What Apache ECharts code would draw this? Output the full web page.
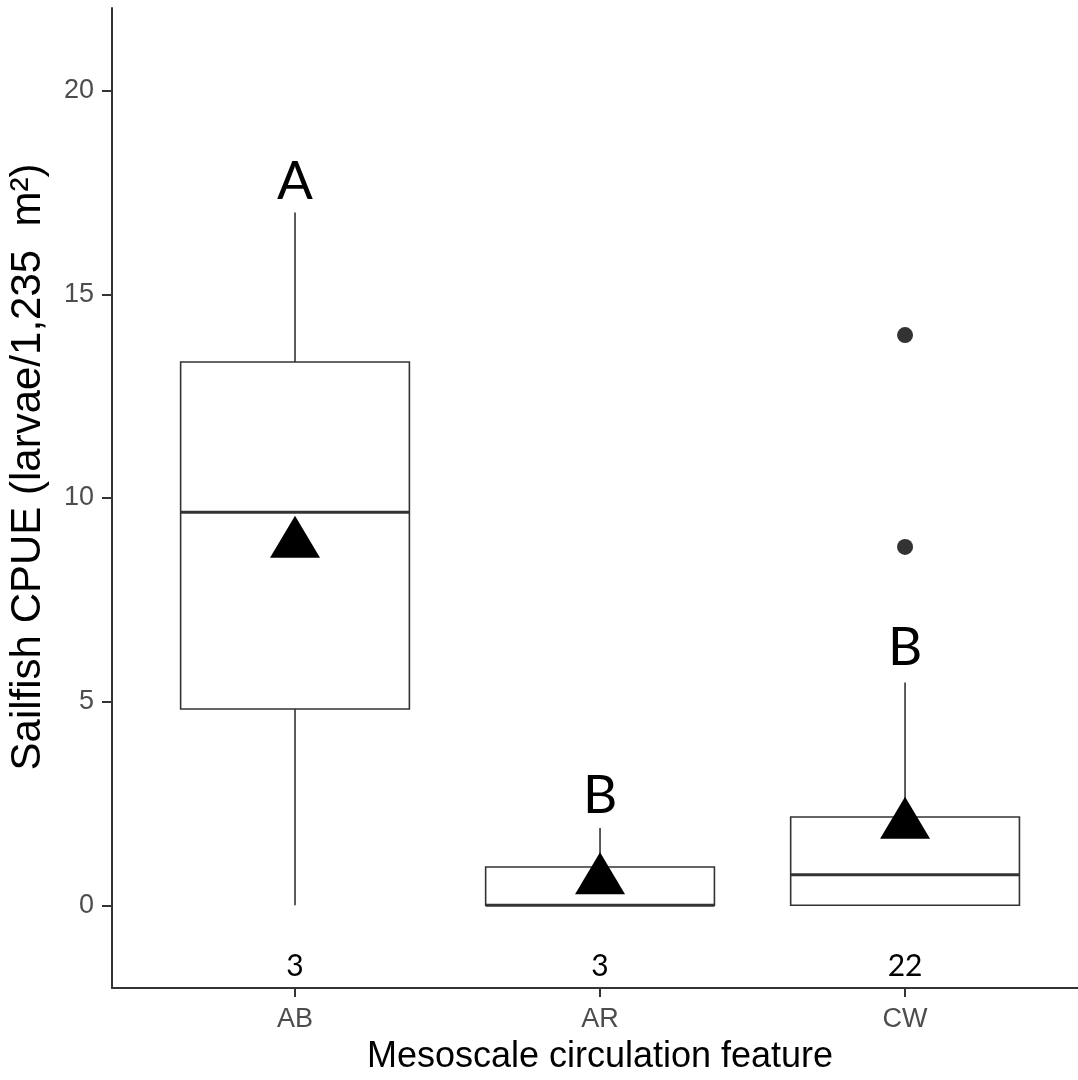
<!DOCTYPE html>
<html>
<head>
<meta charset="utf-8">
<script src="https://cdn.jsdelivr.net/npm/echarts@6/dist/echarts.min.js"></script>
<style>
  html, body { margin: 0; padding: 0; background: #fff; }
  #main { width: 1078px; height: 1080px; }
</style>
</head>
<body>
<div id="main"></div>
<script>
// box statistics per circulation feature
var categories = ['AB', 'AR', 'CW'];
var lower  = [0, 0, 0];
var q1     = [4.82, 0, 0];
var median = [9.65, 0, 0.75];
var q3     = [13.34, 0.94, 2.17];
var upper  = [17.01, 1.9, 5.47];
var means  = [9.05, 0.79, 2.15];
var outliers = [[3, 8.8], [3, 14.0]];

// annotations
var letters = ['A', 'B', 'B'];
var letterY = [17.76, 2.69, 6.33];
var counts  = [3, 3, 22];
var countY  = -1.49;

var yTicks = [0, 5, 10, 15, 20];

var chart = echarts.init(document.getElementById('main'));

var boxData = categories.map(function (c, i) {
    return [i + 1, lower[i], q1[i], median[i], q3[i], upper[i]];
});

var lineCol = '#333333';

chart.setOption({
    animation: false,
    grid: { left: 112, top: 8, right: 0, bottom: 92 },
    xAxis: {
        type: 'value',
        min: 0.4,
        max: 3.567,
        splitLine: { show: false },
        axisLine: { onZero: false, lineStyle: { color: lineCol, width: 2 } },
        axisTick: { customValues: [1, 2, 3], length: 9, lineStyle: { color: lineCol, width: 2 } },
        axisLabel: {
            customValues: [1, 2, 3],
            formatter: function (v) { return categories[Math.round(v) - 1]; },
            color: '#4d4d4d',
            fontFamily: 'Liberation Sans',
            fontSize: 27,
            margin: 18
        }
    },
    yAxis: {
        type: 'value',
        min: -2.03,
        max: 22.03,
        splitLine: { show: false },
        axisLine: { show: true, onZero: false, lineStyle: { color: lineCol, width: 2 } },
        axisTick: { show: true, customValues: yTicks, length: 10, lineStyle: { color: lineCol, width: 2 } },
        axisLabel: {
            customValues: yTicks,
            color: '#4d4d4d',
            fontFamily: 'Liberation Sans',
            fontSize: 27,
            margin: 18
        }
    },
    graphic: [
        {
            type: 'text',
            x: 28, y: 467,
            rotation: Math.PI / 2,
            style: {
                text: 'Sailfish CPUE (larvae/1,235  m²)',
                font: '42px "Liberation Sans"',
                fill: '#000',
                align: 'center',
                verticalAlign: 'middle'
            }
        },
        {
            type: 'text',
            x: 600, y: 1057,
            style: {
                text: 'Mesoscale circulation feature',
                font: '36px "Liberation Sans"',
                fill: '#000',
                align: 'center',
                verticalAlign: 'middle'
            }
        }
    ],
    series: [
        {
            type: 'custom',
            data: boxData,
            renderItem: function (params, api) {
                var x = api.value(0);
                var half = api.size([0.75, 0])[0] / 2;
                var pLow = api.coord([x, api.value(1)]);
                var pQ1 = api.coord([x, api.value(2)]);
                var pMed = api.coord([x, api.value(3)]);
                var pQ3 = api.coord([x, api.value(4)]);
                var pHigh = api.coord([x, api.value(5)]);
                var st = { stroke: lineCol, lineWidth: 1.6, fill: null };
                return {
                    type: 'group',
                    children: [
                        { type: 'line', shape: { x1: pQ3[0], y1: pQ3[1], x2: pHigh[0], y2: pHigh[1] }, style: st },
                        { type: 'line', shape: { x1: pQ1[0], y1: pQ1[1], x2: pLow[0], y2: pLow[1] }, style: st },
                        { type: 'rect', shape: { x: pQ3[0] - half, y: pQ3[1], width: half * 2, height: pQ1[1] - pQ3[1] }, style: { stroke: lineCol, lineWidth: 1.6, fill: '#fff' } },
                        { type: 'line', shape: { x1: pMed[0] - half, y1: pMed[1], x2: pMed[0] + half, y2: pMed[1] }, style: { stroke: lineCol, lineWidth: 3 } }
                    ]
                };
            },
            z: 2
        },
        {
            type: 'scatter',
            data: outliers,
            symbol: 'circle',
            symbolSize: 16,
            itemStyle: { color: '#333333', opacity: 1 },
            z: 3
        },
        {
            type: 'scatter',
            data: means.map(function (m, i) { return [i + 1, m]; }),
            symbol: 'triangle',
            symbolSize: [50, 42],
            itemStyle: { color: '#000', opacity: 1 },
            z: 4
        },
        {
            type: 'scatter',
            data: letters.map(function (t, i) { return [i + 1, letterY[i]]; }),
            symbolSize: 0,
            itemStyle: { opacity: 1 },
            label: {
                show: true,
                position: 'inside',
                formatter: function (p) { return letters[p.dataIndex]; },
                fontFamily: 'Lato',
                fontSize: 53,
                color: '#000'
            },
            z: 5
        },
        {
            type: 'scatter',
            data: counts.map(function (n, i) { return [i + 1, countY]; }),
            symbolSize: 0,
            itemStyle: { opacity: 1 },
            label: {
                show: true,
                position: 'inside',
                formatter: function (p) { return String(counts[p.dataIndex]); },
                fontFamily: 'Lato',
                fontSize: 30,
                color: '#000'
            },
            z: 5
        }
    ]
});
</script>
</body>
</html>
